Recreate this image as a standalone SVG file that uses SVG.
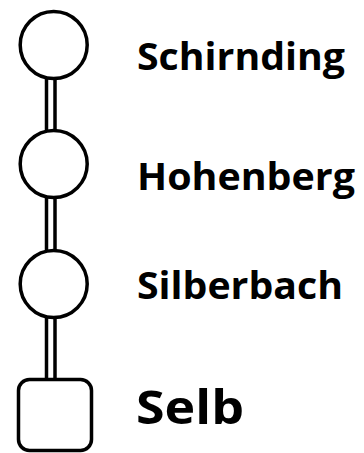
<svg xmlns="http://www.w3.org/2000/svg" width="364" height="453" viewBox="0 0 364 453">
<style>
.n{fill:#fff;stroke:#000;stroke-width:3.5}
.c line{stroke:#000;stroke-width:3.5}
.t{font-family:"Open Sans","Liberation Sans",sans-serif;font-weight:bold;fill:#000}
</style>
<rect width="364" height="453" fill="#fff"/>
<g id="connectors" class="c">
<line x1="46.5" y1="70" x2="46.5" y2="140"/><line x1="55" y1="70" x2="55" y2="140"/>
<line x1="46.5" y1="190" x2="46.5" y2="260"/><line x1="55" y1="190" x2="55" y2="260"/>
<line x1="46.5" y1="310" x2="46.5" y2="390"/><line x1="55" y1="310" x2="55" y2="390"/>
</g>
<g id="schirnding"><circle class="n" cx="53.7" cy="45" r="33.5"/><text class="t" x="137" y="70" font-size="37" textLength="208" lengthAdjust="spacingAndGlyphs">Schirnding</text></g>
<g id="hohenberg"><circle class="n" cx="53.7" cy="164" r="33.5"/><text class="t" x="137" y="190" font-size="37" textLength="218" lengthAdjust="spacingAndGlyphs">Hohenberg</text></g>
<g id="silberbach"><circle class="n" cx="53.7" cy="284" r="33.5"/><text class="t" x="137" y="299" font-size="37" textLength="206" lengthAdjust="spacingAndGlyphs">Silberbach</text></g>
<g id="selb"><rect class="n" x="18.5" y="379.5" width="73" height="71" rx="11"/><text class="t" x="136" y="424" font-size="47" textLength="108" lengthAdjust="spacingAndGlyphs">Selb</text></g>
</svg>
